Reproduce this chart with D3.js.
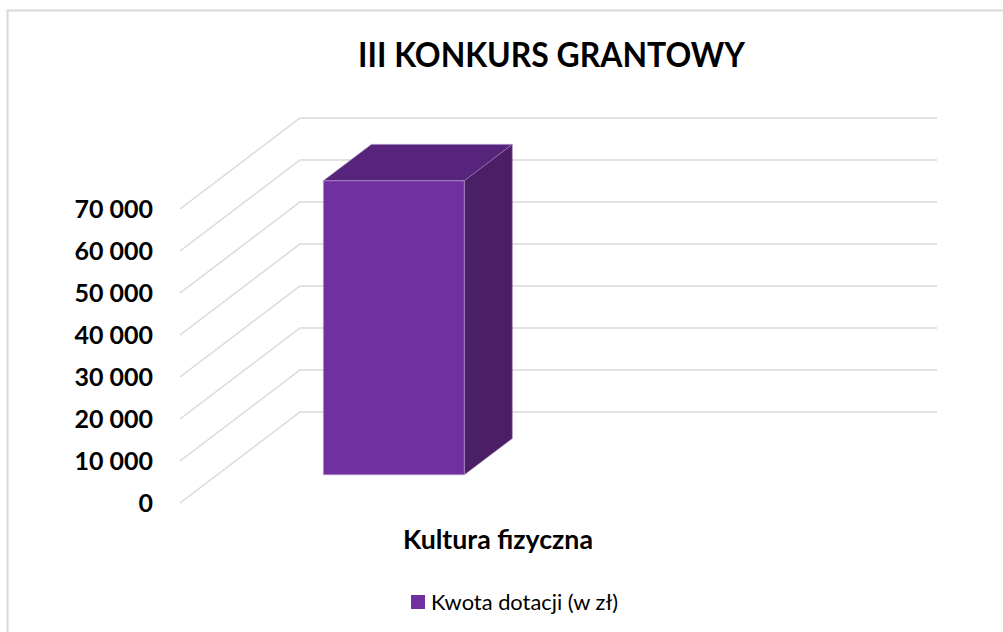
<!DOCTYPE html>
<html>
<head>
<meta charset="utf-8">
<script src="https://cdn.jsdelivr.net/npm/d3@7"></script>
<style>
  body { margin: 0; background: #fff; }
  svg { font-family: Lato, "Open Sans", sans-serif; }
</style>
</head>
<body>
<div id="chart"></div>
<script>
// data
const categories = ["Kultura fizyczna"];
const values = [70000];
const seriesName = "Kwota dotacji (w zł)";
const tickValues = [0, 10000, 20000, 30000, 40000, 50000, 60000, 70000];
const title = "III KONKURS GRANTOWY";

const width = 1003, height = 632;

// 3D depth of the plot (floor front -> back wall)
const depthX = 120, depthY = -91;
const barDepth = [0.31, 0.71]; // bar sits in middle of depth

const svg = d3.select("#chart").append("svg")
  .attr("width", width).attr("height", height);

// chart frame
svg.append("path")
  .attr("d", "M7.5,640 L7.5,10.5 L1010,10.5")
  .attr("fill", "none").attr("stroke", "#d9d9d9").attr("stroke-width", 2);

// scales (front plane)
const yScale = d3.scaleLinear().domain([0, 70000]).range([503, 209]);
const xScale = d3.scaleBand().domain(categories).range([180, 817])
  .paddingInner(0).paddingOuter(1.76).align(0.214);

const proj = (x, v, d) => [x + d * depthX, yScale(v) + d * depthY];

// gridlines: side wall diagonal + back wall horizontal
const line = d3.line();
svg.append("g").selectAll("path").data(tickValues).enter().append("path")
  .attr("d", v => line([proj(180, v, 0), proj(180, v, 1), [937, yScale(v) + depthY]]))
  .attr("fill", "none").attr("stroke", "#d9d9d9").attr("stroke-width", 1.5);

// tick labels
const fmt = v => d3.format(",")(v).replace(/,/g, " ");
svg.append("g").selectAll("text").data(tickValues).enter().append("text")
  .attr("x", 153).attr("y", v => yScale(v))
  .attr("dy", "0.36em").attr("text-anchor", "end")
  .attr("font-size", 25).attr("font-weight", "bold").attr("fill", "#000")
  .text(fmt);

// bars
const bars = svg.append("g").selectAll("g").data(categories).enter().append("g");
const poly = pts => "M" + pts.map(p => p.join(",")).join("L") + "Z";
bars.each(function (c, i) {
  const g = d3.select(this);
  const x0 = xScale(c), x1 = x0 + xScale.bandwidth();
  const v = values[i];
  const [d0, d1] = barDepth;
  // top
  g.append("path")
    .attr("d", poly([proj(x0, v, d0), proj(x1, v, d0), proj(x1, v, d1), proj(x0, v, d1)]))
    .attr("fill", "#56247a").attr("stroke", "#9c7bb8").attr("stroke-width", 0.6);
  // side
  g.append("path")
    .attr("d", poly([proj(x1, 0, d0), proj(x1, v, d0), proj(x1, v, d1), proj(x1, 0, d1)]))
    .attr("fill", "#4a1f66").attr("stroke", "#9c7bb8").attr("stroke-width", 0.6);
  // front
  g.append("path")
    .attr("d", poly([proj(x0, 0, d0), proj(x0, v, d0), proj(x1, v, d0), proj(x1, 0, d0)]))
    .attr("fill", "#7030a0").attr("stroke", "#b9a0cc").attr("stroke-width", 0.6);
});

// category label
svg.append("g").selectAll("text").data(categories).enter().append("text")
  .attr("x", 498).attr("y", 549)
  .attr("text-anchor", "middle")
  .attr("font-size", 26).attr("font-weight", "bold")
  .attr("textLength", 190).attr("lengthAdjust", "spacingAndGlyphs")
  .text(d => d);

// title
svg.append("text")
  .attr("x", 551.5).attr("y", 67).attr("text-anchor", "middle")
  .attr("font-size", 35).attr("font-weight", "bold")
  .attr("textLength", 387).attr("lengthAdjust", "spacingAndGlyphs")
  .text(title);

// legend
svg.append("rect").attr("x", 411).attr("y", 595).attr("width", 14).attr("height", 14)
  .attr("fill", "#7030a0");
svg.append("text").attr("x", 431).attr("y", 610)
  .attr("font-size", 21)
  .attr("textLength", 187).attr("lengthAdjust", "spacingAndGlyphs")
  .text(seriesName);
</script>
</body>
</html>
